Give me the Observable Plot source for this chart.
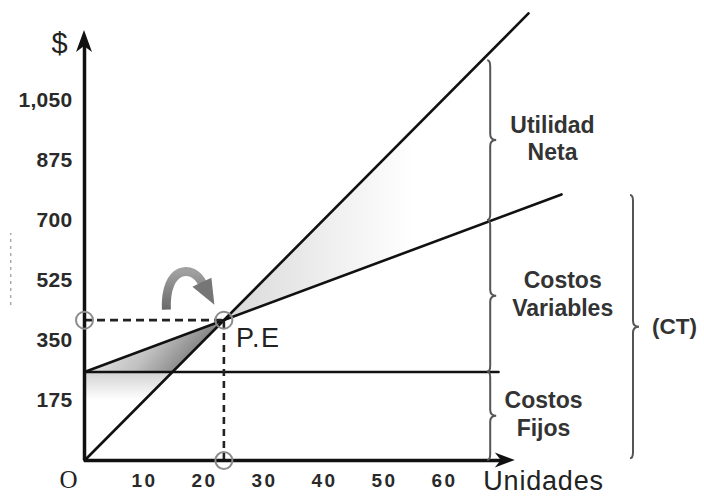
<!DOCTYPE html>
<html><head><meta charset="utf-8">
<script src="https://cdn.jsdelivr.net/npm/d3@7"></script>
<script src="https://cdn.jsdelivr.net/npm/@observablehq/plot@0.6"></script>
<style>
body{margin:0;background:#fff}
#chart svg{display:block}
</style>
</head><body><div id="chart"></div>
<script>
// ---- data ----
const xTicks = [10, 20, 30, 40, 50, 60];
const yTicks = [175, 350, 525, 700, 875, 1050];
const ingresos   = [{u: 0, v: 0},   {u: 74,   v: 1304}];  // ingresos totales
const costoTotal = [{u: 0, v: 258}, {u: 79.5, v: 776}];   // costo total
const costoFijo  = [{u: 0, v: 258}, {u: 69,   v: 258}];   // costos fijos
const llaveNombres = ["Utilidad\nNeta", "Costos\nVariables", "Costos\nFijos"];
const llaveU       = [67.7, 67.7, 67.7];
const llaveDesde   = [700, 258, 0];
const llaveHasta   = [1166, 700, 258];
const etiquetaU    = [78, 79.7, 76.5];
const llaveCT = {t: "(CT)", u: 91.5, lo: 5, hi: 773, lu: 94.6};
const ejeYTope = 1254, ejeXTope = 71.8;

// ---- derived geometry ----
const lerp = (line, u) => line[0].v + (line[1].v - line[0].v) * (u - line[0].u) / (line[1].u - line[0].u);
const rev = u => lerp(ingresos, u), tc = u => lerp(costoTotal, u);
const F = costoFijo[0].v;
const sR = (ingresos[1].v - ingresos[0].v) / (ingresos[1].u - ingresos[0].u);
const sC = (costoTotal[1].v - costoTotal[0].v) / (costoTotal[1].u - costoTotal[0].u);
const peU = (costoTotal[0].v - ingresos[0].v) / (sR - sC);
const pe = {u: peU, v: rev(peU)};
const xc = F / sR;

const zonaUtilidad = [{u: pe.u, lo: pe.v, hi: pe.v}, {u: llaveU[0], lo: tc(llaveU[0]), hi: rev(llaveU[0])}];
const zonaPerdida  = [{u: 0, lo: F, hi: F}, {u: xc, lo: F, hi: tc(xc)}, {u: pe.u, lo: pe.v, hi: pe.v}];
const zonaFija     = [{u: 0, lo: 0, hi: F}, {u: xc, lo: F, hi: F}];
const llaves = llaveNombres.map((t, i) => ({t, u: llaveU[i], lo: llaveDesde[i], hi: llaveHasta[i], lu: etiquetaU[i], mid: (llaveDesde[i] + llaveHasta[i]) / 2}));
llaveCT.mid = (llaveCT.lo + llaveCT.hi) / 2;
const todasLlaves = [...llaves, llaveCT];

function defsMark() {
  const g = d3.create("svg:g");
  const defs = g.append("defs");
  const grad = (id, x1, y1, x2, y2, stops) => {
    const lg = defs.append("linearGradient").attr("id", id).attr("x1", x1).attr("y1", y1).attr("x2", x2).attr("y2", y2);
    stops.forEach(([o, c]) => lg.append("stop").attr("offset", o).attr("stop-color", c));
  };
  grad("gUtil", 0, 0, 1, 0, [[0, "#d8d8d8"], [0.4, "#efefef"], [0.72, "#ffffff"]]);
  grad("gPerd", 0, 0, 1, 0.3, [[0, "#ffffff"], [0.25, "#e6e6e6"], [0.6, "#c0c0c0"], [1, "#757575"]]);
  grad("gFijo", 0, 0, 0, 1, [[0, "#d2d2d2"], [0.32, "#ffffff"]]);
  grad("gFlecha", 0, 0, 0, 1, [[0, "#a0a0a0"], [1, "#6a6a6a"]]);
  return g.node();
}

function bracePath(x, yTop, yBot, w) {
  const m = (yTop + yBot) / 2, r = Math.min(6, (yBot - yTop) / 6);
  return `M${x - w * 0.5},${yTop} Q${x},${yTop} ${x},${yTop + r} L${x},${m - r} Q${x},${m} ${x + w},${m} Q${x},${m} ${x},${m + r} L${x},${yBot - r} Q${x},${yBot} ${x - w * 0.5},${yBot}`;
}

function llavesMark(index, scales) {
  const g = d3.create("svg:g").attr("fill", "none").attr("stroke", "#555").attr("stroke-width", 2);
  todasLlaves.forEach(b => {
    g.append("path").attr("d", bracePath(scales.x(b.u), scales.y(b.hi), scales.y(b.lo), 6));
  });
  return g.node();
}

function flechasMark(index, scales) {
  const g = d3.create("svg:g");
  const x0 = scales.x(0), y0 = scales.y(0);
  const ty = scales.y(ejeYTope);
  g.append("path").attr("fill", "#111")
    .attr("d", `M${x0},${ty} L${x0 + 8},${ty + 22} L${x0},${ty + 16} L${x0 - 8},${ty + 22} Z`);
  const tx = scales.x(ejeXTope);
  g.append("path").attr("fill", "#111")
    .attr("d", `M${tx},${y0} L${tx - 20},${y0 - 7.5} L${tx - 14},${y0} L${tx - 20},${y0 + 7.5} Z`);
  // curved arrow pointing to P.E
  const px = scales.x(pe.u), py = scales.y(pe.v);
  g.append("path").attr("fill", "none").attr("stroke", "url(#gFlecha)").attr("stroke-width", 9)
    .attr("d", `M${px - 57},${py - 10} C${px - 59},${py - 54} ${px - 30},${py - 56} ${px - 21},${py - 36}`);
  g.append("path").attr("fill", "#767676")
    .attr("d", `M${px - 9},${py - 15} L${px - 31},${py - 33} L${px - 12},${py - 42} Z`);
  return g.node();
}

const chart = Plot.plot({
  width: 704, height: 496,
  marginLeft: 84, marginRight: 20, marginTop: 10, marginBottom: 36,
  x: {domain: [0, 100]},
  y: {domain: [0, 1312.5]},
  style: {background: "#fff", color: "#2a2a2a", fontFamily: "'Liberation Sans', Arial, sans-serif", overflow: "visible"},
  marks: [
    defsMark,
    Plot.areaY(zonaUtilidad, {x: "u", y1: "lo", y2: "hi", fill: "url(#gUtil)"}),
    Plot.areaY(zonaPerdida, {x: "u", y1: "lo", y2: "hi", fill: "url(#gPerd)"}),
    Plot.areaY(zonaFija, {x: "u", y1: "lo", y2: "hi", fill: "url(#gFijo)"}),
    Plot.line(costoFijo, {x: "u", y: "v", stroke: "#111", strokeWidth: 2.6}),
    Plot.line(costoTotal, {x: "u", y: "v", stroke: "#111", strokeWidth: 2.6}),
    Plot.line(ingresos, {x: "u", y: "v", stroke: "#111", strokeWidth: 2.6}),
    Plot.ruleY([pe], {x1: 0, x2: "u", y: "v", stroke: "#222", strokeWidth: 2.8, strokeDasharray: "8,5"}),
    Plot.ruleX([pe], {x: "u", y1: 0, y2: "v", stroke: "#222", strokeWidth: 2.6, strokeDasharray: "7,5"}),
    Plot.ruleX([0], {y1: 0, y2: ejeYTope - 40, stroke: "#111", strokeWidth: 3.5}),
    Plot.ruleY([0], {x1: 0, x2: ejeXTope - 2, stroke: "#111", strokeWidth: 3.5}),
    Plot.ruleX([-12.3], {y1: 452, y2: 662, stroke: "#aaa", strokeWidth: 1.5, strokeDasharray: "3,4"}),
    flechasMark,
    Plot.dot([{u: 0, v: pe.v}, {u: pe.u, v: 0}, {u: pe.u, v: pe.v}], {x: "u", y: "v", r: 8.5, stroke: "#8c8c8c", strokeWidth: 2, fill: "none"}),
    llavesMark,
    Plot.axisX({ticks: xTicks, tickSize: 0, tickPadding: 13, label: null, fontSize: 19, fontWeight: "bold"}),
    Plot.axisY({ticks: yTicks, tickSize: 0, tickPadding: 12, label: null, tickFormat: d3.format(","), fontSize: 21, fontWeight: "bold"}),
    Plot.text(llaves, {x: "lu", y: "mid", text: "t", textAnchor: "middle", dy: -3, lineHeight: 1.2, fontSize: 23, fontWeight: "bold", fill: "#333"}),
    Plot.text([llaveCT], {x: "lu", y: "mid", text: "t", textAnchor: "start", fontSize: 22.5, fontWeight: "bold", fill: "#333"}),
    Plot.text([pe], {x: "u", y: "v", text: () => "P.E", dx: 12, dy: 27, lineAnchor: "bottom", textAnchor: "start", fontSize: 27, fill: "#222"}),
    Plot.text([0], {x: 0, y: ejeYTope, text: () => "$", dx: -25, dy: 13, fontSize: 29, fill: "#222"}),
    Plot.text([0], {x: 0, y: 0, text: () => "O", dx: -16, dy: 19, fontSize: 25, fill: "#222", fontFamily: "'Liberation Serif', 'Times New Roman', serif"}),
    Plot.text([0], {x: ejeXTope, y: 0, text: () => "Unidades", dx: -32, dy: 21, textAnchor: "start", fontSize: 27, fill: "#222"})
  ]
});
document.getElementById("chart").appendChild(chart);
d3.select(chart).selectAll('g[aria-label="x-axis tick label"] text').attr("letter-spacing", "2.5px");
d3.select(chart).selectAll('g[aria-label="y-axis tick label"] text').attr("letter-spacing", "0.3px");
d3.select(chart).selectAll('g[aria-label="text"] text').filter(function () { return this.textContent === "P.E"; }).attr("letter-spacing", "1.5px");
d3.select(chart).selectAll('g[aria-label="text"] text').filter(function () { return this.textContent === "Unidades"; }).attr("letter-spacing", "0.8px");
</script>
</body></html>
